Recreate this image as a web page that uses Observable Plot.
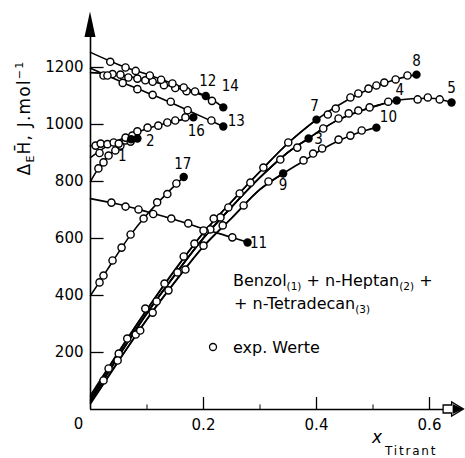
<!DOCTYPE html>
<html><head><meta charset="utf-8">
<script src="https://cdn.jsdelivr.net/npm/d3@7"></script>
<script src="https://cdn.jsdelivr.net/npm/@observablehq/plot@0.6"></script>
<style>body{margin:0;background:#fff}</style>
</head><body><div id="chart"></div>
<script>
// ---- axis ticks ----
const yTicks = [200, 400, 600, 800, 1000, 1200];
const yTickLabels = ["200", "400", "600", "800", "1000", "1200"];
const xTicks = [0.2, 0.4, 0.6];
const xTickLabels = ["0.2", "0.4", "0.6"];
const xMinor = [0.1, 0.3, 0.5];
const originLabel = "0";

// ---- curve lines (x = mole fraction of titrant, y = excess enthalpy J/mol) ----
const line1 = [[0,800],[0.014,846],[0.032,890],[0.053,926],[0.072,948]];
const line2 = [[0,925],[0.03,930],[0.055,936],[0.083,951]];
const line3 = [[0,36],[0.05,190],[0.1,340],[0.15,475],[0.2,603],[0.25,712],[0.3,815],[0.35,903],[0.386,951]];
const line4 = [[0,33],[0.05,188],[0.1,338],[0.15,474],[0.2,602],[0.25,711],[0.3,814],[0.35,903],[0.386,951],[0.412,986],[0.44,1018],[0.475,1046],[0.51,1068],[0.542,1084]];
const line5 = [[0,30],[0.05,187],[0.1,337],[0.15,473],[0.2,601],[0.25,711],[0.3,814],[0.35,903],[0.386,951],[0.412,986],[0.44,1018],[0.475,1046],[0.51,1068],[0.542,1084],[0.58,1091],[0.61,1091],[0.639,1077]];
const line7 = [[0,50],[0.05,204],[0.1,352],[0.15,492],[0.2,621],[0.25,730],[0.3,835],[0.35,935],[0.4,1017]];
const line8 = [[0,44],[0.05,200],[0.1,350],[0.15,490],[0.2,620],[0.25,730],[0.3,835],[0.35,935],[0.4,1017],[0.46,1092],[0.5,1130],[0.54,1158],[0.577,1175]];
const line9 = [[0,24],[0.05,172],[0.1,318],[0.15,450],[0.2,573],[0.25,672],[0.3,772],[0.341,828]];
const line10 = [[0,20],[0.05,170],[0.1,316],[0.15,448],[0.2,572],[0.25,672],[0.3,772],[0.341,828],[0.377,872],[0.41,913],[0.44,944],[0.475,972],[0.506,989]];
const line11 = [[0,740],[0.05,720],[0.1,694],[0.15,666],[0.2,634],[0.25,604],[0.278,586]];
const line12 = [[0,1182],[0.05,1174],[0.1,1155],[0.15,1130],[0.204,1100]];
const line13 = [[0,1197],[0.06,1145],[0.11,1104],[0.172,1050],[0.235,993]];
const line14 = [[0,1253],[0.05,1210],[0.1,1176],[0.15,1140],[0.204,1100],[0.235,1060]];
const line16 = [[0,884],[0.03,925],[0.062,955],[0.1,985],[0.136,1005],[0.182,1025]];
const line17 = [[0,400],[0.02,460],[0.04,522],[0.07,610],[0.1,684],[0.13,748],[0.165,816]];

// ---- experimental points (open circles) ----
const open1 = [[0.014,846],[0.023,867],[0.032,891],[0.044,909],[0.053,926],[0.062,944]];
const open2 = [[0.009,926],[0.018,933],[0.03,931],[0.041,937],[0.05,933],[0.071,940]];
const open5 = [[0.023,102],[0.05,196],[0.117,379],[0.154,481],[0.212,632],[0.23,674],[0.336,877],[0.366,919],[0.412,986],[0.439,1021],[0.457,1039],[0.474,1049],[0.494,1060],[0.527,1080],[0.579,1088],[0.597,1095],[0.618,1088]];
const open8 = [[0.032,144],[0.065,249],[0.097,354],[0.131,442],[0.165,537],[0.184,582],[0.202,625],[0.218,670],[0.244,709],[0.264,758],[0.283,796],[0.306,849],[0.35,937],[0.42,1035],[0.434,1056],[0.46,1095],[0.474,1109],[0.492,1126],[0.506,1137],[0.52,1147],[0.54,1158],[0.561,1172]];
const open10 = [[0.048,172],[0.08,263],[0.088,277],[0.11,340],[0.138,418],[0.168,491],[0.2,575],[0.234,646],[0.271,716],[0.315,800],[0.377,874],[0.394,898],[0.41,916],[0.439,947],[0.46,961],[0.48,979]];
const open11 = [[0.037,726],[0.062,712],[0.085,702],[0.111,686],[0.143,670],[0.173,653],[0.2,628],[0.251,604]];
const open12 = [[0.023,1172],[0.039,1177],[0.053,1175],[0.067,1165],[0.083,1161],[0.097,1155],[0.11,1150],[0.13,1138],[0.15,1128],[0.17,1117]];
const open13 = [[0.03,1172],[0.057,1146],[0.083,1124],[0.11,1104],[0.142,1080],[0.172,1050],[0.214,1014]];
const open14 = [[0.035,1220],[0.062,1200],[0.08,1188],[0.105,1172],[0.125,1157],[0.145,1144],[0.165,1130],[0.185,1116],[0.215,1083]];
const open16 = [[0.016,900],[0.062,954],[0.074,961],[0.083,976],[0.101,989],[0.12,996],[0.136,1007],[0.15,1014],[0.168,1025]];
const open17 = [[0.016,446],[0.023,470],[0.039,523],[0.055,568],[0.071,614],[0.094,670],[0.118,727],[0.136,756],[0.152,793]];

// ---- end points (filled) and curve numbers ----
const endIds = ["1","2","3","4","5","7","8","9","10","11","12","13","14","16","17"];
const endX = [0.072,0.083,0.386,0.542,0.639,0.4,0.577,0.341,0.506,0.278,0.204,0.235,0.235,0.182,0.165];
const endY = [948,951,951,1084,1077,1017,1175,828,989,586,1100,993,1060,1025,816];

// ---- label text ----
const legendLine1 = ["Benzol", "(1)", " + n-Heptan", "(2)", " +"];
const legendLine2 = ["+ n-Tetradecan", "(3)"];
const legendPoints = "exp. Werte";

// ---- styles (pixel offsets for curve numbers) ----
const labelDx = [-9, 13, 10, 3, 0, -2, 0, 0, 12, 11, 2, 13, 7, 3, -1];
const labelDy = [17, 3, 1, -10, -14, -13, -13, 12, -10, 1, -15, -5, -21, 14, -13];

const lines = [line1,line2,line3,line4,line5,line7,line8,line9,line10,line11,line12,line13,line14,line16,line17];
const opens = [open1,open2,open5,open8,open10,open11,open12,open13,open14,open16,open17];
const openRows = opens.flatMap(a => a.map(([x, y]) => ({x, y})));
const endRows = endIds.map((id, i) => ({id, x: endX[i], y: endY[i]}));

const font = "DejaVu Sans";
const plot = Plot.plot({
  width: 465,
  height: 458,
  margin: 0,
  style: {fontFamily: font, fontSize: "15px", background: "white", overflow: "visible"},
  x: {domain: [0, 0.6], range: [90, 429], axis: null},
  y: {domain: [0, 1200], range: [409, 67], axis: null},
  marks: [
    Plot.ruleY([0], {x1: 0, x2: 0.625, strokeWidth: 1.6}),
    Plot.ruleX([0], {y1: 0, y2: 1330, strokeWidth: 1.6}),
    Plot.ruleY(yTicks, {x1: 0, x2: 0.024, strokeWidth: 1.3}),
    Plot.ruleX(xTicks, {y1: 0, y2: 42, strokeWidth: 1.3}),
    Plot.ruleX(xMinor, {y1: 0, y2: 16, strokeWidth: 1}),
    Plot.text(yTicks, {x: 0, y: d => d, text: (d, i) => yTickLabels[i], textAnchor: "end", dx: -7, fontSize: 15}),
    Plot.text(xTicks, {x: d => d, y: 0, text: (d, i) => xTickLabels[i], dy: 16, fontSize: 15}),
    Plot.text([0], {x: 0, y: 0, text: () => originLabel, dx: -12, dy: 15, fontSize: 15}),
    ...lines.map(pts => Plot.line(pts, {x: d => d[0], y: d => d[1], curve: "catmull-rom", stroke: "black", strokeWidth: 1.6})),
    Plot.dot(openRows, {x: "x", y: "y", r: 3.6, fill: "white", stroke: "black", strokeWidth: 1.4}),
    Plot.dot(endRows, {x: "x", y: "y", r: 4.2, fill: "black"}),
    ...endRows.map((d, i) => Plot.text([d], {x: "x", y: "y", text: "id", dx: labelDx[i], dy: labelDy[i], fontSize: 15, fontFamily: "DejaVu Sans Condensed"}))
  ]
});
document.getElementById("chart").append(plot);

const svg = d3.select(plot);
const sx = plot.scale("x"), sy = plot.scale("y");
const X = v => sx.apply(v), Y = v => sy.apply(v);

// y-axis arrow (filled)
const yTip = Y(1395), yBase = Y(1305), x0 = X(0);
svg.append("path").attr("d", `M${x0},${yTip}L${x0-5.5},${yBase}L${x0+5.5},${yBase}Z`).attr("fill", "black");
// x-axis arrow (hollow tail, filled tip)
const xa = X(0.625), xb = X(0.64), xc = X(0.661), y0 = Y(0);
svg.append("path").attr("d", `M${xa},${y0-4}L${xb},${y0-4}L${xb},${y0-7}L${xc},${y0}L${xb},${y0+7}L${xb},${y0+4}L${xa},${y0+4}Z`)
  .attr("fill", "white").attr("stroke", "black").attr("stroke-width", 1.3);
svg.append("path").attr("d", `M${xb+1},${y0-5}L${xc},${y0}L${xb+1},${y0+5}Z`).attr("fill", "black");

// y-axis title
const yt = svg.append("text").attr("transform", "translate(30,118) rotate(-90)")
  .attr("text-anchor", "middle").attr("font-family", font).attr("font-size", 17).attr("letter-spacing", 1.2);
yt.append("tspan").text("Δ");
yt.append("tspan").attr("font-size", 11).attr("dy", 4).text("E");
yt.append("tspan").attr("dy", -4).text("H\u0304, J.mol");
yt.append("tspan").attr("font-size", 11).attr("dy", -7).text("\u22121");

// x-axis title
svg.append("text").attr("x", 372).attr("y", 443).attr("text-anchor", "start").attr("font-family", font).attr("font-size", 17).attr("font-style", "italic").text("x");
svg.append("text").attr("x", 385).attr("y", 455).attr("text-anchor", "start").attr("font-family", font).attr("font-size", 12).attr("letter-spacing", 1.8).text("Titrant");

// legend
function richLine(parts, x, y) {
  const t = svg.append("text").attr("x", x).attr("y", y).attr("text-anchor", "start").attr("font-family", font).attr("font-size", 16);
  parts.forEach((p, i) => {
    const sub = p.startsWith("(");
    t.append("tspan").attr("font-size", sub ? 10.5 : 16).attr("dy", sub ? 3.5 : (i > 0 ? -3.5 : 0)).text(p);
  });
}
richLine(legendLine1, 233, 286);
richLine(legendLine2, 234, 309);
svg.append("circle").attr("cx", 213).attr("cy", 347).attr("r", 3.5).attr("fill", "white").attr("stroke", "black").attr("stroke-width", 1.3);
svg.append("text").attr("x", 233).attr("y", 353).attr("text-anchor", "start").attr("font-family", font).attr("font-size", 16).text(legendPoints);
</script></body></html>
